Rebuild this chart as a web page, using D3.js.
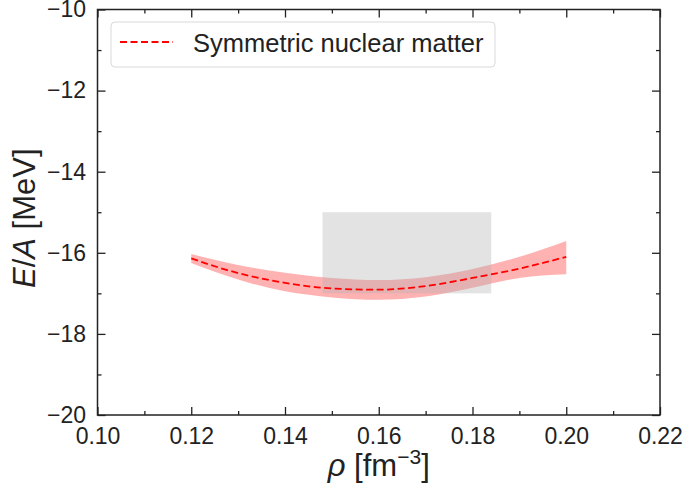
<!DOCTYPE html>
<html>
<head>
<meta charset="utf-8">
<script src="https://cdn.jsdelivr.net/npm/d3@7"></script>
<style>
  body { margin: 0; background: #fff; }
  text { font-family: "Liberation Sans", Arial, sans-serif; fill: #222; }
</style>
</head>
<body>
<div id="chart"></div>
<script>
// data
let rho = [0.12, 0.13, 0.14, 0.15, 0.16, 0.17, 0.18, 0.19, 0.20];
let eCenter = [-16.14, -16.50, -16.74, -16.88, -16.91, -16.82, -16.62, -16.39, -16.10];
let eUpper = [-16.03, -16.30, -16.49, -16.62, -16.67, -16.60, -16.40, -16.10, -15.71];
let eLower = [-16.25, -16.66, -16.95, -17.10, -17.16, -17.08, -16.86, -16.62, -16.53];
// empirical saturation box
let boxRho = [0.148, 0.184];
let boxE = [-17, -15];
let xTicks = [0.10, 0.12, 0.14, 0.16, 0.18, 0.20, 0.22];
let yTicks = [-20, -18, -16, -14, -12, -10];
let legendLabel = "Symmetric nuclear matter";

let svgWidth = 685;
let svgHeight = 489;
let margin = { top: 9.5, right: 25, bottom: 74, left: 97.5 };
let width = svgWidth - margin.left - margin.right;
let height = svgHeight - margin.top - margin.bottom;

let svg = d3.select("#chart")
    .append("svg")
    .attr("width", svgWidth)
    .attr("height", svgHeight);

let chartGroup = svg.append("g")
    .attr("transform", `translate(${margin.left}, ${margin.top})`);

let xScale = d3.scaleLinear().domain([0.10, 0.22]).range([0, width]);
let yScale = d3.scaleLinear().domain([-20, -10]).range([height, 0]);

let rows = rho.map((r, i) => ({ r: r, c: eCenter[i], lo: eLower[i], hi: eUpper[i] }));

// band
let band = d3.area()
    .x(d => xScale(d.r))
    .y0(d => yScale(d.lo))
    .y1(d => yScale(d.hi))
    .curve(d3.curveMonotoneX);

chartGroup.append("path")
    .datum(rows)
    .attr("d", band)
    .attr("fill", "#ff0000")
    .attr("fill-opacity", 0.3);

// gray box
chartGroup.append("rect")
    .attr("x", xScale(boxRho[0]))
    .attr("y", yScale(boxE[1]))
    .attr("width", xScale(boxRho[1]) - xScale(boxRho[0]))
    .attr("height", yScale(boxE[0]) - yScale(boxE[1]))
    .attr("fill", "#b0b0b0")
    .attr("fill-opacity", 0.35);

// center line
let line = d3.line()
    .x(d => xScale(d.r))
    .y(d => yScale(d.c))
    .curve(d3.curveMonotoneX);

chartGroup.append("path")
    .datum(rows)
    .attr("d", line)
    .attr("fill", "none")
    .attr("stroke", "#ff0000")
    .attr("stroke-width", 1.8)
    .attr("stroke-dasharray", "7,3.5");

// axes with inward ticks
let xMinor = d3.range(0.11, 0.22, 0.02);
let yMinor = d3.range(-19, -10, 2);

function drawAxis(axis, transform) {
    let g = chartGroup.append("g").attr("transform", transform).call(axis);
    g.select(".domain").remove();
    g.selectAll("line").attr("stroke", "#222").attr("stroke-width", 1.3);
    return g;
}

let bottomAxis = d3.axisBottom(xScale).tickValues(xTicks).tickSizeInner(-8).tickFormat(d3.format(".2f"));
let gx = drawAxis(bottomAxis, `translate(0, ${height})`);
gx.selectAll("text").attr("font-size", "23px").attr("dy", 0).attr("y", 28.5);

drawAxis(d3.axisBottom(xScale).tickValues(xMinor).tickSizeInner(-4).tickFormat(""), `translate(0, ${height})`);
drawAxis(d3.axisTop(xScale).tickValues(xTicks).tickSizeInner(-8).tickFormat(""), "translate(0,0)");
drawAxis(d3.axisTop(xScale).tickValues(xMinor).tickSizeInner(-4).tickFormat(""), "translate(0,0)");

let leftAxis = d3.axisLeft(yScale).tickValues(yTicks).tickSizeInner(-8).tickFormat(d => "\u2212" + Math.abs(d));
let gy = drawAxis(leftAxis, "translate(0,0)");
gy.selectAll("text").attr("font-size", "23px").attr("x", -11.5);

drawAxis(d3.axisLeft(yScale).tickValues(yMinor).tickSizeInner(-4).tickFormat(""), "translate(0,0)");
drawAxis(d3.axisRight(yScale).tickValues(yTicks).tickSizeInner(-8).tickFormat(""), `translate(${width},0)`);
drawAxis(d3.axisRight(yScale).tickValues(yMinor).tickSizeInner(-4).tickFormat(""), `translate(${width},0)`);

// frame
chartGroup.append("rect")
    .attr("width", width)
    .attr("height", height)
    .attr("fill", "none")
    .attr("stroke", "#222")
    .attr("stroke-width", 1.5);

// axis labels
let yLab = chartGroup.append("text")
    .attr("transform", `translate(${-62.5}, ${height / 2 + 6}) rotate(-90)`)
    .attr("text-anchor", "middle")
    .attr("font-size", "31px");
yLab.append("tspan").attr("font-style", "italic").text("E");
yLab.append("tspan").text("/");
yLab.append("tspan").attr("font-style", "italic").text("A");
yLab.append("tspan").text(" [MeV]");

let xLab = chartGroup.append("text")
    .attr("x", width / 2)
    .attr("y", height + 61)
    .attr("text-anchor", "middle")
    .attr("font-size", "31px");
xLab.append("tspan").attr("font-style", "italic").text("\u03c1");
xLab.append("tspan").text(" [fm");
xLab.append("tspan").attr("font-size", "21px").attr("dy", "-12").text("\u22123");
xLab.append("tspan").attr("dy", "12").text("]");

// legend
let legend = chartGroup.append("g").attr("transform", "translate(13.5, 12.5)");
legend.append("rect")
    .attr("width", 384)
    .attr("height", 45)
    .attr("rx", 4)
    .attr("fill", "#fff")
    .attr("fill-opacity", 0.8)
    .attr("stroke", "#d9d9d9")
    .attr("stroke-width", 1);
legend.append("line")
    .attr("x1", 9).attr("x2", 62)
    .attr("y1", 20).attr("y2", 20)
    .attr("stroke", "#ff0000")
    .attr("stroke-width", 1.8)
    .attr("stroke-dasharray", "7,3.5");
legend.append("text")
    .attr("x", 82)
    .attr("y", 30)
    .attr("font-size", "25.5px")
    .text(legendLabel);
</script>
</body>
</html>
